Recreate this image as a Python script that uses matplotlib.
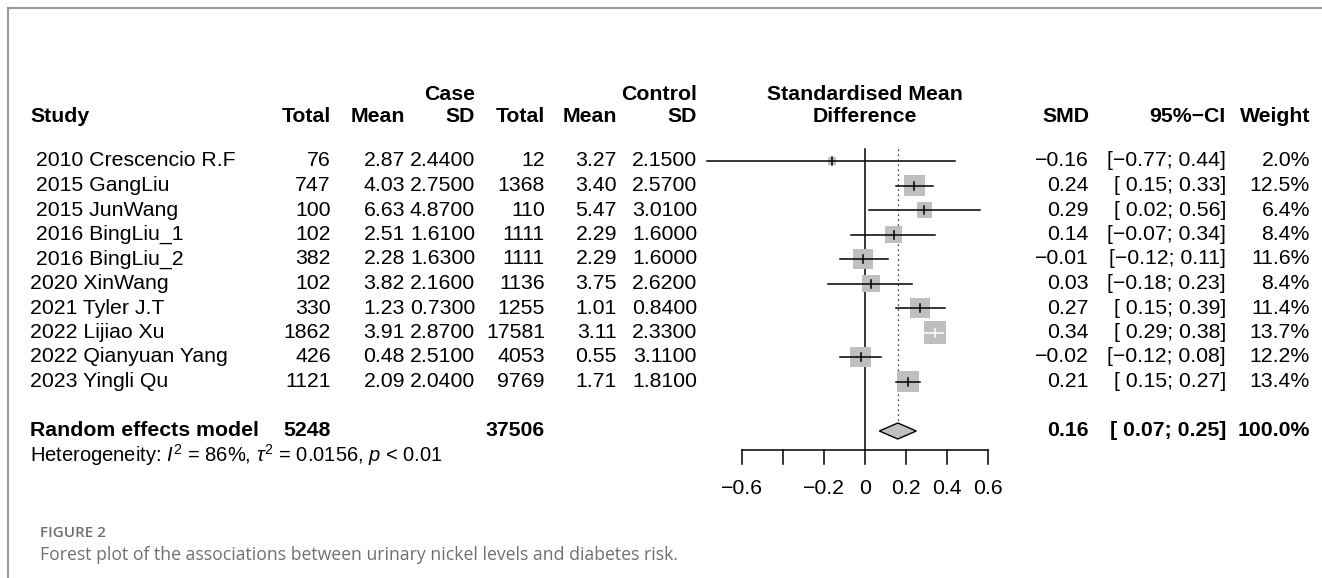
import numpy as np
import matplotlib.pyplot as plt
from matplotlib.patches import Rectangle, Polygon

plt.rcParams['font.family'] = ['Liberation Sans', 'DejaVu Sans']
plt.rcParams['mathtext.fontset'] = 'custom'
plt.rcParams['mathtext.rm'] = 'Liberation Sans'
plt.rcParams['mathtext.it'] = 'Liberation Sans:italic'

# 数据
studies = [" 2010 Crescencio R.F", " 2015 GangLiu", " 2015 JunWang", " 2016 BingLiu_1",
           " 2016 BingLiu_2", "2020 XinWang", "2021 Tyler J.T", "2022 Lijiao Xu",
           "2022 Qianyuan Yang", "2023 Yingli Qu"]
case_n = [76, 747, 100, 102, 382, 102, 330, 1862, 426, 1121]
case_mean = [2.87, 4.03, 6.63, 2.51, 2.28, 3.82, 1.23, 3.91, 0.48, 2.09]
case_sd = [2.44, 2.75, 4.87, 1.61, 1.63, 2.16, 0.73, 2.87, 2.51, 2.04]
ctrl_n = [12, 1368, 110, 1111, 1111, 1136, 1255, 17581, 4053, 9769]
ctrl_mean = [3.27, 3.40, 5.47, 2.29, 2.29, 3.75, 1.01, 3.11, 0.55, 1.71]
ctrl_sd = [2.15, 2.57, 3.01, 1.60, 1.60, 2.62, 0.84, 2.33, 3.11, 1.81]
smd = [-0.16, 0.24, 0.29, 0.14, -0.01, 0.03, 0.27, 0.34, -0.02, 0.21]
ci_lo = [-0.77, 0.15, 0.02, -0.07, -0.12, -0.18, 0.15, 0.29, -0.12, 0.15]
ci_hi = [0.44, 0.33, 0.56, 0.34, 0.11, 0.23, 0.39, 0.38, 0.08, 0.27]
weight = [2.0, 12.5, 6.4, 8.4, 11.6, 8.4, 11.4, 13.7, 12.2, 13.4]
pooled_smd, pooled_lo, pooled_hi = 0.16, 0.07, 0.25
total_case, total_ctrl = 5248, 37506
axis_ticks = [-0.6, -0.4, -0.2, 0, 0.2, 0.4, 0.6]
tick_labels = ["−0.6", "", "−0.2", "0", "0.2", "0.4", "0.6"]

W, H = 1322, 578
fs = 15.3
fig = plt.figure(figsize=(W / 100, H / 100), dpi=100)

# 文字表格 (像素坐标)
ax = fig.add_axes([0, 0, 1, 1])
ax.set_xlim(0, W)
ax.set_ylim(H, 0)
ax.axis('off')

# 森林图 (SMD坐标)
x0, px_per = 865, 205
fx = fig.add_axes([0, 0, 1, 1])
fx.set_xlim(-x0 / px_per, (W - x0) / px_per)
fx.set_ylim(H, 0)
fx.axis('off')
fx.patch.set_alpha(0)

# 边框
ax.plot([8, 8], [H, 8], color='#9a9a9a', lw=1.5)
ax.plot([8, W], [8, 8], color='#9a9a9a', lw=1.5)

y_h1, y_h2 = 94, 117
y_rows = [161 + 24.5 * i for i in range(len(studies))]
y_re = 431
y_het = 455
x_left = 30

col_x = {'cn': 331, 'cm': 405, 'csd': 475, 'kn': 545, 'km': 617, 'ksd': 697,
         'smd': 1089, 'ci': 1226, 'w': 1310}

def t(x, y, s, ha='right', bold=False, **kw):
    ax.text(x, y, s, ha=ha, va='center', fontsize=fs,
            fontweight='bold' if bold else 'normal', **kw)

# 表头
t(x_left, y_h2, "Study", ha='left', bold=True)
t(col_x['csd'], y_h1, "Case", bold=True)
t(col_x['ksd'], y_h1, "Control", bold=True)
for k, s in [('cn', 'Total'), ('cm', 'Mean'), ('csd', 'SD'), ('kn', 'Total'),
             ('km', 'Mean'), ('ksd', 'SD'), ('smd', 'SMD'), ('ci', '95%−CI'), ('w', 'Weight')]:
    t(col_x[k], y_h2, s, bold=True)
t(x0, y_h1, "Standardised Mean", ha='center', bold=True)
t(x0, y_h2, "Difference", ha='center', bold=True)

def fmt(v, d):
    return f"{v:.{d}f}".replace('-', '−')

def fmt_ci(lo, hi):
    a = fmt(lo, 2) if lo < 0 else " " + fmt(lo, 2)
    return f"[{a}; {fmt(hi, 2)}]"

for i, y in enumerate(y_rows):
    t(x_left, y, studies[i], ha='left')
    t(col_x['cn'], y, str(case_n[i]))
    t(col_x['cm'], y, fmt(case_mean[i], 2))
    t(col_x['csd'], y, fmt(case_sd[i], 4))
    t(col_x['kn'], y, str(ctrl_n[i]))
    t(col_x['km'], y, fmt(ctrl_mean[i], 2))
    t(col_x['ksd'], y, fmt(ctrl_sd[i], 4))
    t(col_x['smd'], y, fmt(smd[i], 2))
    t(col_x['ci'], y, fmt_ci(ci_lo[i], ci_hi[i]))
    t(col_x['w'], y, f"{weight[i]:.1f}%")

    side = 6.0 * np.sqrt(weight[i])
    fx.add_patch(Rectangle((smd[i] - side / px_per / 2, y - side / 2), side / px_per, side,
                           facecolor='#bfbfbf', edgecolor='none', zorder=2))
    inside = (ci_hi[i] - ci_lo[i]) * px_per < side
    lc = 'white' if inside else 'black'
    fx.plot([ci_lo[i], ci_hi[i]], [y, y], color=lc, lw=1.1, zorder=3)
    fx.plot([smd[i], smd[i]], [y - 4, y + 4], color=lc, lw=1.1, zorder=3)

# 合并效应
t(x_left, y_re, "Random effects model", ha='left', bold=True)
t(col_x['cn'], y_re, str(total_case), bold=True)
t(col_x['kn'], y_re, str(total_ctrl), bold=True)
t(col_x['smd'], y_re, fmt(pooled_smd, 2), bold=True)
t(col_x['ci'], y_re, fmt_ci(pooled_lo, pooled_hi), bold=True)
t(col_x['w'], y_re, "100.0%", bold=True)
ax.text(x_left, y_het, r"Heterogeneity: $I^2$ = 86%, $\tau^2$ = 0.0156, $p$ < 0.01",
        ha='left', va='center', fontsize=14.5)

dh = 8
fx.add_patch(Polygon([(pooled_lo, y_re), (pooled_smd, y_re - dh), (pooled_hi, y_re),
                      (pooled_smd, y_re + dh)], closed=True, facecolor='#c0c0c0',
                     edgecolor='black', lw=1.0, zorder=3))

y_axis = 450
fx.plot([0, 0], [149, y_axis], color='black', lw=1.1, zorder=1)
fx.plot([pooled_smd, pooled_smd], [149, y_re - dh], color='black', lw=0.9,
        ls=(0, (1, 3)), zorder=1)
fx.plot([axis_ticks[0], axis_ticks[-1]], [y_axis, y_axis], color='black', lw=1.1)
for tk, lab in zip(axis_ticks, tick_labels):
    fx.plot([tk, tk], [y_axis, y_axis + 14], color='black', lw=1.1)
    fx.text(tk, 489, lab, ha='center', va='center', fontsize=fs)

# 图注
ax.text(40, 533, "FIGURE 2", ha='left', va='center', fontsize=11,
        color='#707070', family=['Open Sans', 'DejaVu Sans'], fontweight='semibold')
ax.text(40, 555, "Forest plot of the associations between urinary nickel levels and diabetes risk.",
        ha='left', va='center', fontsize=12.7, color='#707070',
        family=['Open Sans', 'DejaVu Sans'])

fig.savefig('out.png', dpi=100)
